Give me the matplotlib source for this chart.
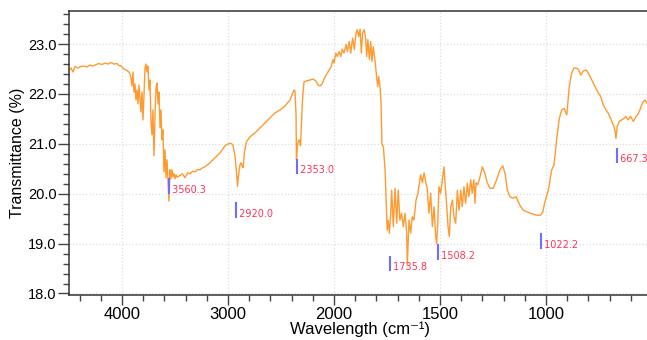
"""
FTIR spectrum: transmittance vs wavenumber with peak markers, saved to out.png
"""
import numpy as np
import matplotlib
matplotlib.use("Agg")
import matplotlib.pyplot as plt
from matplotlib.ticker import FixedLocator

# spectrum (cm-1, %T)
wavenumber = [
    4500, 4481, 4462, 4443, 4415, 4387, 4358, 4330, 4302, 4274, 4245, 4217,
    4189, 4160, 4132, 4104, 4075, 4047, 4028, 4009, 3991, 3972, 3953, 3934,
    3925, 3915, 3906, 3896, 3887, 3877, 3868, 3858, 3849, 3840, 3830, 3821,
    3811, 3802, 3792, 3783, 3774, 3764, 3755, 3745, 3736, 3726, 3717, 3708,
    3698, 3689, 3679, 3670, 3660, 3651, 3641, 3632, 3623, 3613, 3604, 3594,
    3585, 3575, 3566, 3557, 3547, 3538, 3528, 3519, 3509, 3500, 3490, 3481,
    3462, 3453, 3430, 3406, 3380, 3358, 3335, 3311, 3290, 3264, 3240, 3217,
    3170, 3123, 3075, 3028, 3000, 2972, 2953, 2934, 2920, 2910, 2901, 2887,
    2877, 2868, 2858, 2844, 2826, 2792, 2745, 2698, 2651, 2604, 2557, 2509,
    2462, 2415, 2396, 2377, 2368, 2358, 2354, 2344, 2335, 2325, 2316, 2306,
    2297, 2283, 2264, 2226, 2198, 2170, 2151, 2132, 2113, 2085, 2057, 2028,
    2009, 2000, 1991, 1984, 1975, 1968, 1961, 1953, 1943, 1937, 1928, 1921,
    1912, 1904, 1896, 1890, 1884, 1877, 1871, 1865, 1857, 1850, 1846, 1840,
    1833, 1827, 1821, 1815, 1807, 1799, 1794, 1789, 1783, 1778, 1774, 1767,
    1759, 1755, 1749, 1744, 1739, 1733, 1728, 1720, 1712, 1704, 1697, 1689,
    1681, 1673, 1665, 1657, 1654, 1646, 1638, 1631, 1623, 1613, 1604, 1591,
    1583, 1575, 1567, 1561, 1552, 1544, 1536, 1528, 1520, 1516, 1511, 1505,
    1497, 1489, 1481, 1475, 1468, 1462, 1456, 1449, 1441, 1434, 1426, 1418,
    1410, 1402, 1395, 1387, 1379, 1371, 1364, 1355, 1348, 1340, 1335, 1330,
    1322, 1311, 1300, 1288, 1277, 1264, 1249, 1233, 1217, 1204, 1193, 1182,
    1170, 1157, 1141, 1131, 1119, 1107, 1091, 1075, 1060, 1044, 1025, 1015,
    1005, 989, 973, 962, 950, 937, 926, 914, 902, 890, 879, 868, 860, 848,
    836, 824, 811, 800, 784, 769, 753, 742, 730, 717, 706, 695, 683, 675,
    670, 664, 654, 643, 632, 623, 612, 601, 588, 575, 564, 557, 549, 541,
    533, 525, 515,
]
transmittance = [
    22.48, 22.52, 22.44, 22.55, 22.52, 22.55, 22.56, 22.54, 22.58, 22.56, 22.59, 22.61,
    22.59, 22.62, 22.60, 22.63, 22.60, 22.61, 22.57, 22.56, 22.52, 22.49, 22.47, 22.44,
    22.40, 22.32, 22.16, 22.44, 22.04, 22.20, 21.88, 22.08, 21.80, 22.18, 21.92, 21.64,
    22.04, 21.48, 21.98, 22.52, 22.60, 22.44, 22.56, 22.08, 22.28, 21.44, 21.18, 21.68,
    20.76, 21.52, 22.12, 22.22, 21.80, 22.04, 21.32, 21.68, 21.08, 21.28, 20.44, 20.88,
    20.32, 20.68, 20.24, 19.85, 20.48, 20.30, 20.48, 20.34, 20.40, 20.30, 20.38, 20.33,
    20.36, 20.36, 20.40, 20.32, 20.42, 20.40, 20.45, 20.44, 20.48, 20.48, 20.52, 20.54,
    20.62, 20.72, 20.82, 20.96, 21.00, 21.01, 20.98, 20.76, 20.44, 20.15, 20.36, 20.58,
    20.62, 20.56, 20.52, 20.84, 21.04, 21.14, 21.22, 21.32, 21.42, 21.52, 21.62, 21.68,
    21.76, 21.88, 21.98, 22.08, 22.06, 21.58, 20.68, 20.98, 21.06, 21.08, 20.96, 21.44,
    21.88, 22.24, 22.26, 22.28, 22.30, 22.26, 22.18, 22.16, 22.20, 22.34, 22.44, 22.54,
    22.69, 22.62, 22.82, 22.75, 22.85, 22.75, 22.90, 22.82, 22.99, 22.85, 23.05, 22.82,
    23.12, 22.89, 23.22, 23.29, 23.15, 23.30, 22.82, 23.22, 23.29, 23.09, 22.75, 23.09,
    22.69, 23.05, 22.65, 22.95, 22.69, 22.35, 22.15, 22.35, 22.15, 21.82, 21.01, 20.94,
    20.48, 20.01, 19.27, 19.47, 19.21, 19.54, 20.07, 19.34, 20.11, 19.41, 20.07, 19.47,
    19.61, 19.34, 19.61, 19.21, 18.57, 19.47, 19.21, 19.54, 19.47, 19.87, 20.01, 20.38,
    20.22, 20.42, 20.22, 20.14, 19.61, 20.01, 19.34, 19.74, 19.14, 19.00, 19.34, 20.14,
    20.01, 20.28, 20.54, 20.14, 19.74, 19.34, 19.14, 19.74, 19.87, 19.54, 19.41, 20.07,
    19.67, 20.07, 19.74, 20.14, 19.81, 20.21, 19.94, 20.28, 20.01, 20.28, 19.81, 20.22,
    20.18, 20.34, 20.54, 20.41, 20.22, 20.11, 20.11, 20.28, 20.48, 20.56, 20.41, 20.07,
    19.94, 19.91, 19.94, 19.84, 19.74, 19.67, 19.64, 19.61, 19.59, 19.57, 19.57, 19.64,
    19.84, 20.07, 20.48, 20.58, 21.08, 21.51, 21.68, 21.71, 21.58, 22.15, 22.42, 22.52, 22.52, 22.50,
    22.38, 22.46, 22.48, 22.42, 22.28, 22.15, 22.02, 21.95, 21.78, 21.68, 21.61, 21.51, 21.38, 21.28,
    21.11, 21.35, 21.45, 21.48, 21.51, 21.55, 21.48, 21.55, 21.45, 21.55, 21.61, 21.68, 21.78, 21.85,
    21.88, 21.82, 21.80,
]

# picked peaks and the level where each marker sits
peak_pos = [3560.3, 2920.0, 2353.0, 1735.8, 1508.2, 1022.2, 667.3]
peak_mark = [20.02, 19.54, 20.41, 18.47, 18.70, 18.92, 20.63]

x_major = [4000, 3000, 2000, 1500, 1000]
x_minor = [4400, 4200, 3800, 3600, 3400, 3200, 2800, 2600, 2400, 2200,
           1900, 1800, 1700, 1600, 1400, 1300, 1200, 1100, 900, 800, 700, 600]
y_major = [18.0, 19.0, 20.0, 21.0, 22.0, 23.0]


# above 2000 cm-1 the axis is compressed by a factor of 2
def fwd(x):
    x = np.asarray(x, dtype=float)
    return np.where(x > 2000, 2000 + (x - 2000) / 2, x)


def inv(u):
    u = np.asarray(u, dtype=float)
    return np.where(u > 2000, 2000 + 2 * (u - 2000), u)


fig = plt.figure(figsize=(6.47, 3.40), dpi=100)
ax = fig.add_axes([0.1066, 0.1324, 0.9011, 0.8362])
ax.set_xscale("function", functions=(fwd, inv))
ax.set_xlim(4500, 500)
ax.set_ylim(17.97, 23.67)

ax.plot(wavenumber, transmittance, color="#ff9a30", lw=1.0)

for wn, lvl in zip(peak_pos, peak_mark):
    ax.plot([wn, wn], [lvl, lvl + 0.27], color="#6f6fff", lw=1.5)
    ax.text(wn, lvl + 0.06, f" {wn:.1f}", color="#ff3355", fontsize=7,
            family="DejaVu Sans", ha="left", va="center")

ax.xaxis.set_major_locator(FixedLocator(x_major))
ax.xaxis.set_minor_locator(FixedLocator(x_minor))
ax.set_xticklabels([str(v) for v in x_major])
ax.set_yticks(y_major)
ax.set_yticklabels([f"{v:.1f}" for v in y_major])
ax.yaxis.set_minor_locator(FixedLocator(np.arange(18.2, 23.7, 0.2)))

ax.tick_params(axis="x", which="major", direction="out", length=7, width=1,
               color="#444444", labelsize=12, pad=2)
ax.tick_params(axis="x", which="minor", direction="out", length=4, width=1,
               color="#444444")
ax.tick_params(axis="y", which="major", direction="out", length=8, width=1,
               color="#444444", labelsize=10.5, pad=1)
ax.tick_params(axis="y", which="minor", direction="out", length=4.5, width=1,
               color="#444444")
for lab in ax.get_xticklabels() + ax.get_yticklabels():
    lab.set_family("Liberation Sans")

ax.grid(True, which="major", color="#dddddd", linestyle=":", lw=0.9)
for s in ax.spines.values():
    s.set_color("#333333")
    s.set_linewidth(1.1)

ax.set_xlabel("Wavelength (cm\u207b\u00b9)", fontsize=12,
              family=["Liberation Sans", "DejaVu Sans"], labelpad=-1)
ax.set_ylabel("Transmittance (%)", fontsize=11.5, family="Liberation Sans",
              labelpad=2)

fig.savefig("out.png", dpi=100)
plt.close(fig)
